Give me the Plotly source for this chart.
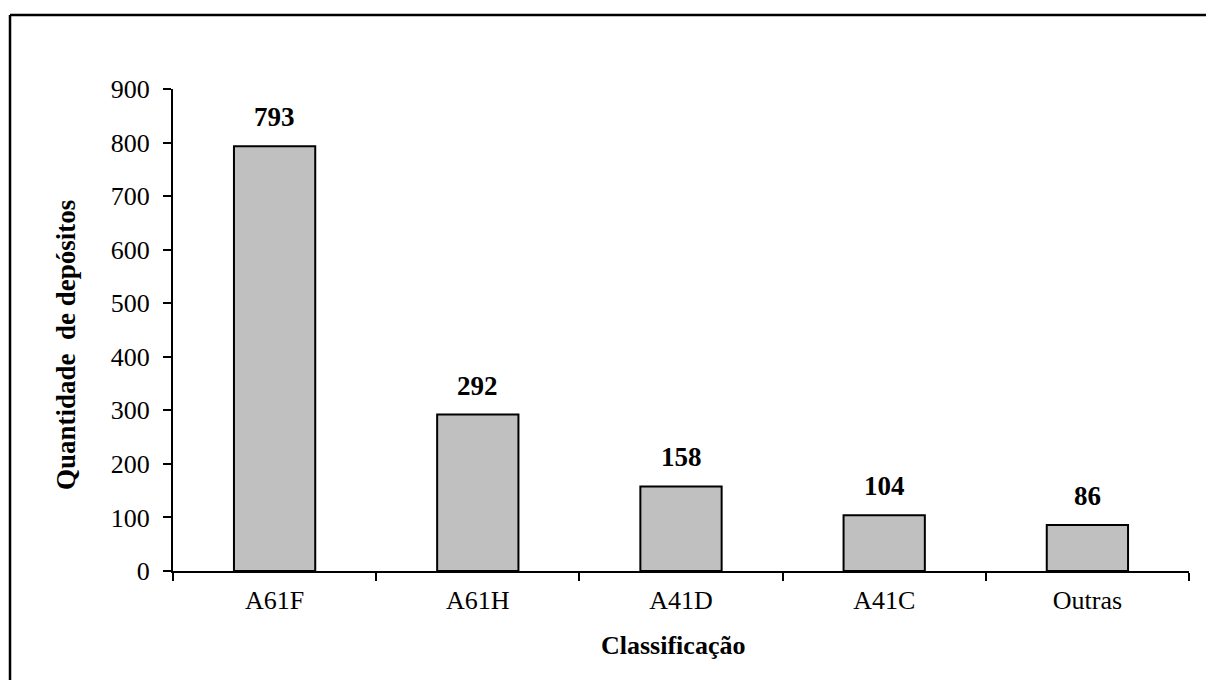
import plotly.graph_objects as go

categories = ["A61F", "A61H", "A41D", "A41C", "Outras"]
values = [793, 292, 158, 104, 86]
y_ticks = [0, 100, 200, 300, 400, 500, 600, 700, 800, 900]

FONT = "Liberation Serif"
W, H = 1206, 680
L, R, T, B = 173, 17, 89, 109
plot_w = W - L - R
plot_h = H - T - B


def px_to_paper_x(px):
    return (px - L) / plot_w


def px_to_paper_y(py):
    return (H - B - py) / plot_h


fig = go.Figure()
fig.add_trace(go.Bar(
    x=categories,
    y=values,
    width=0.4,
    marker=dict(color="#C0C0C0", line=dict(color="black", width=2)),
    hoverinfo="x+y",
))

# value labels above each bar
for c, v in zip(categories, values):
    fig.add_annotation(
        x=c, y=v, text=f"<b>{v}</b>", showarrow=False,
        yanchor="bottom", yshift=12,
        font=dict(family=FONT, size=27, color="black"),
    )

# axis titles
fig.add_annotation(
    xref="paper", yref="paper",
    x=px_to_paper_x(673), y=px_to_paper_y(645),
    text="<b>Classificação</b>", showarrow=False,
    xanchor="center", yanchor="middle",
    font=dict(family=FONT, size=26, color="black"),
)
fig.add_annotation(
    xref="paper", yref="paper",
    x=px_to_paper_x(66), y=px_to_paper_y(345),
    text="<b>Quantidade  de depósitos</b>", showarrow=False,
    textangle=-90, xanchor="center", yanchor="middle",
    font=dict(family=FONT, size=27, color="black"),
)

# frame lines along the top and left edges
x_left = px_to_paper_x(10)
y_top = px_to_paper_y(15)
fig.add_shape(type="line", xref="paper", yref="paper",
              x0=x_left, x1=px_to_paper_x(W + 20), y0=y_top, y1=y_top,
              line=dict(color="black", width=2.5))
fig.add_shape(type="line", xref="paper", yref="paper",
              x0=x_left, x1=x_left, y0=y_top, y1=px_to_paper_y(H + 20),
              line=dict(color="black", width=2.5))

fig.update_layout(
    width=W, height=H,
    margin=dict(l=L, r=R, t=T, b=B, pad=0),
    paper_bgcolor="white", plot_bgcolor="white",
    showlegend=False,
    font=dict(family=FONT, size=26, color="black"),
    bargap=0.6,
)
fig.update_xaxes(
    type="category",
    showline=True, linecolor="black", linewidth=2,
    ticks="outside", tickson="boundaries", ticklen=8, tickwidth=2, tickcolor="black",
    tickfont=dict(family=FONT, size=26, color="black"),
    showgrid=False, zeroline=False,
    ticklabelstandoff=5,
)
fig.update_yaxes(
    range=[0, 900],
    tickvals=y_ticks,
    showline=True, linecolor="black", linewidth=2,
    ticks="outside", ticklen=8, tickwidth=2, tickcolor="black",
    tickfont=dict(family=FONT, size=26, color="black"),
    showgrid=False, zeroline=False,
    ticklabelstandoff=8,
)

fig.write_html("out.html")
